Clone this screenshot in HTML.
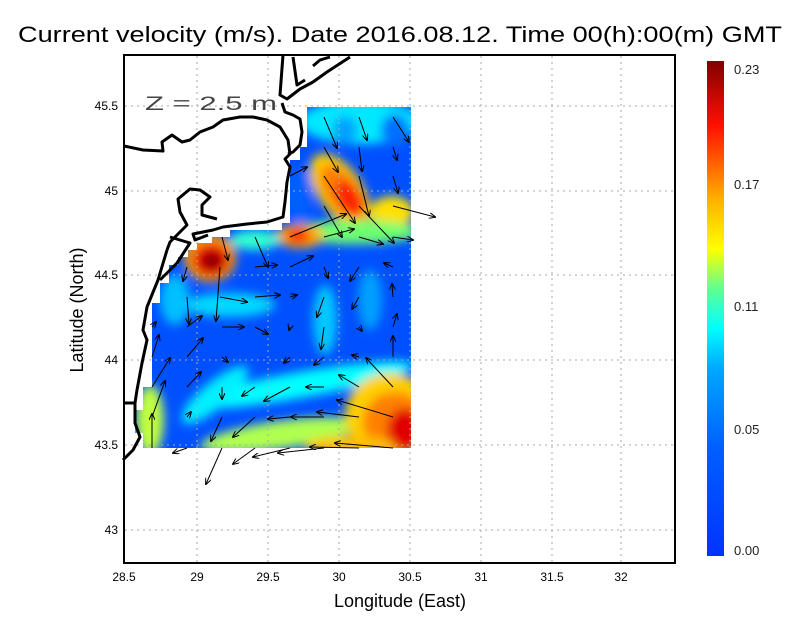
<!DOCTYPE html>
<html><head><meta charset="utf-8"><style>
html,body{margin:0;padding:0;background:#fff}
svg{display:block}
text{font-family:"Liberation Sans",sans-serif}
</style></head><body>
<svg width="800" height="618" viewBox="0 0 800 618" xmlns="http://www.w3.org/2000/svg">
<defs>
<filter id="bl" x="-20%" y="-20%" width="140%" height="140%"><feGaussianBlur stdDeviation="5"/></filter>
<clipPath id="dc"><polygon points="307,107 411,107 411,448 143,448 143,433 135,433 135,410 143,410 143,387 152,387 152,303 160,303 160,283 169,283 169,265 178,265 178,257 188,257 188,250 197,250 197,243 212,243 212,237 230,237 230,230 282,230 282,223 290,223 290,160 300,160 300,147 307,147"/></clipPath>
<linearGradient id="cb" x1="0" y1="1" x2="0" y2="0">
<stop offset="0" stop-color="#0033ff"/><stop offset="0.22" stop-color="#0060ff"/>
<stop offset="0.38" stop-color="#00a8ff"/><stop offset="0.46" stop-color="#00ffff"/>
<stop offset="0.54" stop-color="#60ff90"/><stop offset="0.62" stop-color="#ffff00"/>
<stop offset="0.72" stop-color="#ffb000"/><stop offset="0.87" stop-color="#ff1000"/>
<stop offset="1" stop-color="#800000"/></linearGradient>
<marker id="ah" markerWidth="7" markerHeight="6" refX="6" refY="3" orient="auto" markerUnits="userSpaceOnUse"><path d="M0,0 L7,3 L0,6" fill="none" stroke="#000" stroke-width="1"/></marker>
</defs>
<!-- heatmap -->
<g clip-path="url(#dc)">
<rect x="120" y="100" width="300" height="360" fill="#0050ff"/>
<g filter="url(#bl)">
<ellipse cx="360" cy="122" rx="60" ry="22" fill="#00e8ff"/>
<ellipse cx="395" cy="130" rx="14" ry="16" fill="#0070ff"/>
<ellipse cx="345" cy="130" rx="12" ry="14" fill="#00a0ff"/>
<ellipse cx="300" cy="195" rx="12" ry="28" fill="#0060ff"/>
<ellipse cx="340" cy="190" rx="42" ry="22" fill="#ffd000" transform="rotate(55 340 190)"/>
<ellipse cx="342" cy="192" rx="32" ry="16" fill="#ff8000" transform="rotate(55 342 192)"/>
<ellipse cx="350" cy="198" rx="20" ry="12" fill="#ff2000" transform="rotate(55 350 198)"/>
<ellipse cx="392" cy="212" rx="22" ry="16" fill="#ffe000"/>
<ellipse cx="355" cy="232" rx="65" ry="12" fill="#70ff70"/>
<ellipse cx="300" cy="236" rx="24" ry="12" fill="#ffb000"/>
<ellipse cx="298" cy="236" rx="13" ry="8" fill="#ff2000"/>
<ellipse cx="255" cy="240" rx="25" ry="10" fill="#30ffd0"/>
<ellipse cx="210" cy="258" rx="26" ry="24" fill="#ffa000"/>
<ellipse cx="211" cy="260" rx="19" ry="17" fill="#f00000"/>
<ellipse cx="212" cy="261" rx="11" ry="10" fill="#900000"/>
<ellipse cx="230" cy="305" rx="45" ry="12" fill="#00d8ff"/>
<ellipse cx="175" cy="300" rx="15" ry="25" fill="#00c0ff"/>
<ellipse cx="325" cy="320" rx="12" ry="35" fill="#00c8ff"/>
<ellipse cx="370" cy="300" rx="12" ry="30" fill="#00a0ff"/>
<ellipse cx="300" cy="385" rx="115" ry="13" fill="#00ffff" transform="rotate(-10 300 385)"/>
<ellipse cx="215" cy="395" rx="42" ry="13" fill="#00f0ff" transform="rotate(-40 215 395)"/>
<ellipse cx="280" cy="435" rx="80" ry="14" fill="#b0ff50" transform="rotate(-8 280 435)"/>
<ellipse cx="390" cy="415" rx="45" ry="42" fill="#ffd000"/>
<ellipse cx="395" cy="422" rx="32" ry="30" fill="#ff8000"/>
<ellipse cx="405" cy="430" rx="18" ry="22" fill="#e00000"/>
<ellipse cx="350" cy="446" rx="45" ry="10" fill="#ffc000"/>
<ellipse cx="150" cy="420" rx="14" ry="35" fill="#c0ff40"/>
</g>
</g>
<!-- land white -->
<polygon points="124,147 143,150 163,151 162,142 172,135 182,142 190,140 200,132 213,127 223,120 240,117 253,117 267,120 280,127 288,140 290,154 285,159 290,167 287,182 285,202 283,217 267,222 247,224 223,227 213,230 203,232 193,234 178,234 170,242 167,250 158,280 147,307 143,330 147,340 142,363 137,390 135,403 124,403 124,55 283,55 282,105 285,112 293,115 300,119 302,132 300,145 293,152 288,154" fill="#fff"/>
<!-- grid -->
<g stroke="#aaa" stroke-width="1" stroke-dasharray="2,4">
<line x1="197" y1="56" x2="197" y2="562"/><line x1="268" y1="56" x2="268" y2="562"/><line x1="339" y1="56" x2="339" y2="562"/><line x1="410" y1="56" x2="410" y2="562"/><line x1="481" y1="56" x2="481" y2="562"/><line x1="552" y1="56" x2="552" y2="562"/><line x1="621" y1="56" x2="621" y2="562"/>
<line x1="125" y1="106" x2="674" y2="106"/><line x1="125" y1="191" x2="674" y2="191"/><line x1="125" y1="275" x2="674" y2="275"/><line x1="125" y1="360" x2="674" y2="360"/><line x1="125" y1="445" x2="674" y2="445"/><line x1="125" y1="530" x2="674" y2="530"/>
</g>
<!-- coast -->
<g fill="none" stroke="#000" stroke-width="3" stroke-linejoin="round">
<polyline points="124,146 143,150 163,151 162,142 172,135 182,142 190,140 200,132 213,127 223,120 240,117 253,117 267,120 280,127 288,140 290,154 285,159 290,167 287,182 285,202 283,217 267,222 247,224 223,227 213,230 203,232 193,234 195,240 208,235"/>
<polyline points="283,55 280,95 287,99 300,89 313,82 327,72 350,57"/>
<polyline points="293,57 297,85 305,80"/>
<polyline points="313,66 320,60 330,57"/>
<polyline points="282,103 285,112 293,115 300,119 302,132 300,145 293,152 288,154"/>
<polyline points="217,219 202,215 202,205 210,197 200,190 190,189 178,199 180,212 187,225 178,234 170,242 167,250"/>
<polyline points="170,237 190,243 177,263 160,280"/>
<polyline points="167,250 158,280 147,307 143,330 147,340 142,363 137,390 135,403 135,423 140,437 133,450 123,460"/>
<polyline points="124,403 135,403"/>
</g>
<!-- arrows -->
<g stroke="#000" stroke-width="1" marker-end="url(#ah)">
<line x1="324" y1="117" x2="337" y2="148"/><line x1="359" y1="117" x2="367" y2="140"/><line x1="393" y1="117" x2="409" y2="142"/>
<line x1="324" y1="147" x2="338" y2="172"/><line x1="359" y1="147" x2="362" y2="171"/><line x1="393" y1="147" x2="397" y2="160"/>
<line x1="290" y1="176" x2="307" y2="167"/><line x1="324" y1="176" x2="355" y2="223"/><line x1="359" y1="176" x2="369" y2="216"/><line x1="393" y1="176" x2="398" y2="193"/>
<line x1="324" y1="206" x2="342" y2="237"/><line x1="359" y1="206" x2="394" y2="243"/><line x1="393" y1="206" x2="435" y2="217"/>
<line x1="290" y1="237" x2="346" y2="214"/><line x1="324" y1="237" x2="354" y2="229"/><line x1="359" y1="237" x2="383" y2="244"/><line x1="393" y1="237" x2="413" y2="240"/>
<line x1="222" y1="237" x2="228" y2="260"/><line x1="255" y1="237" x2="268" y2="267"/>
<line x1="255" y1="267" x2="277" y2="265"/><line x1="290" y1="267" x2="313" y2="256"/><line x1="324" y1="267" x2="328" y2="278"/><line x1="359" y1="267" x2="350" y2="281"/><line x1="393" y1="267" x2="384" y2="263"/><line x1="187" y1="267" x2="183" y2="281"/><line x1="220" y1="267" x2="216" y2="321"/>
<line x1="220" y1="297" x2="247" y2="302"/><line x1="255" y1="297" x2="280" y2="295"/><line x1="290" y1="297" x2="297" y2="295"/><line x1="324" y1="297" x2="317" y2="317"/><line x1="359" y1="297" x2="352" y2="309"/><line x1="393" y1="297" x2="392" y2="284"/><line x1="187" y1="297" x2="189" y2="324"/>
<line x1="187" y1="327" x2="202" y2="316"/><line x1="222" y1="327" x2="244" y2="327"/><line x1="255" y1="327" x2="268" y2="334"/><line x1="290" y1="327" x2="289" y2="330"/><line x1="324" y1="327" x2="321" y2="349"/><line x1="359" y1="327" x2="362" y2="331"/><line x1="393" y1="327" x2="397" y2="314"/><line x1="152" y1="327" x2="156" y2="322"/>
<line x1="152" y1="357" x2="159" y2="335"/><line x1="187" y1="357" x2="203" y2="338"/><line x1="222" y1="357" x2="228" y2="362"/><line x1="290" y1="357" x2="284" y2="363"/><line x1="324" y1="357" x2="314" y2="365"/><line x1="359" y1="357" x2="352" y2="355"/><line x1="393" y1="357" x2="393" y2="336"/>
<line x1="152" y1="387" x2="170" y2="358"/><line x1="187" y1="387" x2="201" y2="372"/><line x1="222" y1="387" x2="222" y2="399"/><line x1="255" y1="387" x2="242" y2="396"/><line x1="290" y1="387" x2="264" y2="401"/><line x1="324" y1="387" x2="306" y2="387"/><line x1="359" y1="387" x2="339" y2="375"/><line x1="393" y1="387" x2="366" y2="358"/>
<line x1="152" y1="417" x2="165" y2="381"/><line x1="187" y1="417" x2="191" y2="412"/><line x1="222" y1="417" x2="211" y2="441"/><line x1="255" y1="417" x2="233" y2="437"/><line x1="290" y1="417" x2="268" y2="419"/><line x1="324" y1="417" x2="291" y2="417"/><line x1="359" y1="417" x2="317" y2="412"/><line x1="393" y1="417" x2="337" y2="400"/>
<line x1="152" y1="448" x2="152" y2="414"/><line x1="187" y1="448" x2="173" y2="453"/><line x1="222" y1="448" x2="206" y2="484"/><line x1="255" y1="448" x2="233" y2="464"/><line x1="290" y1="448" x2="253" y2="457"/><line x1="324" y1="448" x2="278" y2="453"/><line x1="359" y1="448" x2="310" y2="447"/><line x1="393" y1="448" x2="335" y2="443"/>
</g>
<!-- frame -->
<rect x="124" y="55" width="551" height="508" fill="none" stroke="#000" stroke-width="2"/>
<text x="145" y="110" font-size="19" fill="#444" textLength="132" lengthAdjust="spacingAndGlyphs">Z = 2.5 m</text>
<!-- title -->
<text x="400" y="42" font-size="22" text-anchor="middle" textLength="764" lengthAdjust="spacingAndGlyphs">Current velocity (m/s). Date 2016.08.12. Time 00(h):00(m) GMT</text>
<!-- x ticks -->
<g font-size="12" text-anchor="middle">
<text x="124" y="581">28.5</text><text x="197" y="581">29</text><text x="268" y="581">29.5</text><text x="339" y="581">30</text><text x="410" y="581">30.5</text><text x="481" y="581">31</text><text x="552" y="581">31.5</text><text x="621" y="581">32</text>
</g>
<g font-size="12" text-anchor="end">
<text x="118" y="110">45.5</text><text x="118" y="195">45</text><text x="118" y="279">44.5</text><text x="118" y="364">44</text><text x="118" y="449">43.5</text><text x="118" y="534">43</text>
</g>
<text x="400" y="607" font-size="18" text-anchor="middle">Longitude (East)</text>
<text transform="translate(83,310) rotate(-90)" font-size="18" text-anchor="middle">Latitude (North)</text>
<!-- colorbar -->
<rect x="707" y="61" width="17" height="495" fill="url(#cb)"/>
<g font-size="13" fill="#222">
<text x="734" y="74">0.23</text><text x="734" y="189">0.17</text><text x="734" y="311">0.11</text><text x="734" y="434">0.05</text><text x="734" y="555">0.00</text>
</g>
</svg>
</body></html>
